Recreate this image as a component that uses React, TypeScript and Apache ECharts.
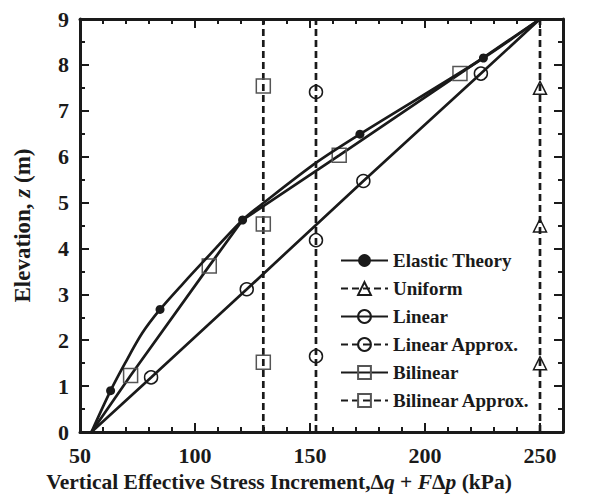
import React, { useEffect, useRef } from "react";
import * as echarts from "echarts";

// ---- data ----
const xTicks = [50, 100, 150, 200, 250];
const elasticMarked: [number, number][] = [
  [63.3, 0.9], [84.8, 2.67], [120.7, 4.62], [171.7, 6.49], [225.4, 8.15],
];
const elasticTrace: [number, number][] = [
  [55, 0], [69.6, 1.5], [77, 2.15], [94.9, 3.24], [104.3, 3.75], [130, 5.0], [153, 5.88], [250, 9],
];
const bilinearVertices: [number, number][] = [[55, 0], [120.7, 4.62], [250, 9]];
const bilinearMarked: [number, number][] = [
  [72, 1.23], [106.2, 3.62], [162.7, 6.03], [215.2, 7.81],
];
const linearEnds: [number, number][] = [[55, 0], [250, 9]];
const linearMarked: [number, number][] = [
  [80.9, 1.19], [122.5, 3.11], [173.2, 5.47], [224.3, 7.81],
];
const depthRange = [0, 9];
const uniformX = 250;
const uniformMarks = [1.5, 4.5, 7.5];
const linearApproxX = 152.6;
const linearApproxMarks = [1.65, 4.18, 7.41];
const bilinearApproxX = 129.7;
const bilinearApproxMarks = [1.52, 4.53, 7.54];

const INK = "#1a1a1a";
const GREY = "#555";
const FONT = "'Liberation Serif','Times New Roman',serif";

function combine(marked: [number, number][], trace: [number, number][]) {
  const all = [
    ...marked.map((p) => ({ p, m: true })),
    ...trace.map((p) => ({ p, m: false })),
  ].sort((a, b) => a.p[0] - b.p[0] || a.p[1] - b.p[1]);
  return all.map((d) => (d.m ? { value: d.p } : { value: d.p, symbol: "none" }));
}

function vertical(x: number, marks: number[]) {
  return [
    { value: [x, depthRange[0]], symbol: "none" },
    ...marks.map((y) => ({ value: [x, y] })),
    { value: [x, depthRange[1]], symbol: "none" },
  ];
}

const hollow = (color: string) => ({
  color: "rgba(0,0,0,0)",
  borderColor: color,
  borderWidth: 1.5,
});

export default function App() {
  const ref = useRef<HTMLDivElement>(null);
  useEffect(() => {
    if (!ref.current) return;
    const chart = echarts.init(ref.current, undefined, { renderer: "svg" });
    const tickLine = { color: INK, width: 2 };
    const txt = (size: number) => ({
      fontFamily: FONT,
      fontWeight: "bold" as const,
      fontSize: size,
      color: INK,
    });
    const baseX = {
      type: "value" as const,
      min: 50,
      max: 260,
      splitLine: { show: false },
    };
    const baseY = {
      type: "value" as const,
      min: 0,
      max: 9,
      interval: 1,
      splitLine: { show: false },
    };
    const dashed = { color: INK, width: 2.7, type: [7, 4] as any };
    const solid = { color: INK, width: 2.7 };
    chart.setOption({
      animation: false,
      grid: { left: 80, right: 27, top: 19, bottom: 72, containLabel: false },
      xAxis: [
        {
          ...baseX,
          position: "bottom",
          interval: 50,
          axisLine: { show: true, onZero: false, lineStyle: { color: INK, width: 3 } },
          axisTick: { inside: true, length: 9, lineStyle: tickLine },
          axisLabel: {
            ...txt(22),
            margin: 12,
            formatter: (v: number) => (xTicks.includes(v) ? String(v) : ""),
          },
          name: "Vertical Effective Stress Increment,Δ{i|q} + {i|F}Δ{i|p} (kPa)",
          nameLocation: "middle",
          nameGap: 33,
          nameTextStyle: {
            ...txt(21.5),
            padding: [0, 85, 0, 0],
            rich: { i: { ...txt(21.5), fontStyle: "italic" } },
          },
        },
        {
          ...baseX,
          position: "bottom",
          interval: 10,
          axisLine: { show: false, onZero: false },
          axisTick: { inside: true, length: 5, lineStyle: tickLine },
          axisLabel: { show: false },
        },
        {
          ...baseX,
          position: "top",
          interval: 50,
          axisLine: { show: true, onZero: false, lineStyle: { color: INK, width: 3 } },
          axisTick: { inside: true, length: 9, lineStyle: tickLine },
          axisLabel: { show: false },
        },
        {
          ...baseX,
          position: "top",
          interval: 10,
          axisLine: { show: false, onZero: false },
          axisTick: { inside: true, length: 5, lineStyle: tickLine },
          axisLabel: { show: false },
        },
      ],
      yAxis: [
        {
          ...baseY,
          position: "left",
          axisLine: { show: true, onZero: false, lineStyle: { color: INK, width: 3 } },
          axisTick: { inside: true, length: 9, lineStyle: tickLine },
          minorTick: { show: true, splitNumber: 2, length: 5, lineStyle: tickLine },
          axisLabel: { ...txt(22), margin: 11 },
          name: "Elevation, {i|z} (m)",
          nameLocation: "middle",
          nameGap: 46,
          nameTextStyle: {
            ...txt(23),
            rich: { i: { ...txt(23), fontStyle: "italic" } },
          },
        },
        {
          ...baseY,
          position: "right",
          axisLine: { show: true, onZero: false, lineStyle: { color: INK, width: 3 } },
          axisTick: { inside: true, length: 9, lineStyle: tickLine },
          minorTick: { show: true, splitNumber: 2, length: 5, lineStyle: tickLine },
          axisLabel: { show: false },
        },
      ],
      legend: {
        orient: "vertical",
        left: 340,
        top: 251,
        padding: 0,
        itemWidth: 47,
        itemHeight: 16,
        itemGap: 9,
        selectedMode: false,
        textStyle: { ...txt(19) },
        data: [
          "Elastic Theory",
          "Uniform",
          "Linear",
          "Linear Approx.",
          "Bilinear",
          "Bilinear Approx.",
        ],
      },
      series: [
        {
          name: "Elastic Theory",
          type: "line",
          data: combine(elasticMarked, elasticTrace),
          smooth: 0.3,
          symbol: "circle",
          symbolSize: 9,
          lineStyle: solid,
          itemStyle: { color: INK },
          silent: true,
          z: 4,
        },
        {
          name: "Uniform",
          type: "line",
          data: vertical(uniformX, uniformMarks),
          symbol: "triangle",
          symbolSize: 13,
          lineStyle: dashed,
          itemStyle: hollow(INK),
          silent: true,
        },
        {
          name: "Linear",
          type: "line",
          data: combine(linearMarked, linearEnds),
          symbol: "circle",
          symbolSize: 13,
          lineStyle: solid,
          itemStyle: hollow(INK),
          silent: true,
        },
        {
          name: "Linear Approx.",
          type: "line",
          data: vertical(linearApproxX, linearApproxMarks),
          symbol: "circle",
          symbolSize: 13,
          lineStyle: dashed,
          itemStyle: hollow(INK),
          silent: true,
        },
        {
          name: "Bilinear",
          type: "line",
          data: combine(bilinearMarked, bilinearVertices),
          symbol: "rect",
          symbolSize: 14,
          lineStyle: solid,
          itemStyle: hollow(GREY),
          silent: true,
        },
        {
          name: "Bilinear Approx.",
          type: "line",
          data: vertical(bilinearApproxX, bilinearApproxMarks),
          symbol: "rect",
          symbolSize: 14,
          lineStyle: dashed,
          itemStyle: hollow(GREY),
          silent: true,
        },
      ],
    });
    return () => chart.dispose();
  }, []);
  return <div ref={ref} style={{ width: 590, height: 504, margin: -8 }} />;
}
